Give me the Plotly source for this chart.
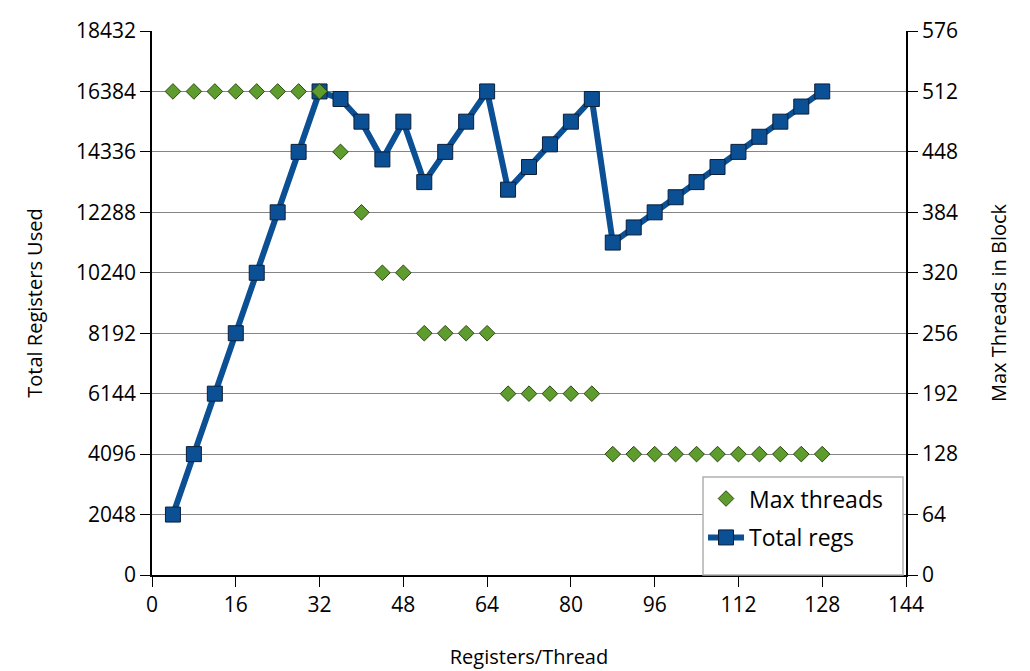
import plotly.graph_objects as go

# registers per thread (x axis)
regs_per_thread = [4, 8, 12, 16, 20, 24, 28, 32, 36, 40, 44, 48, 52, 56, 60, 64,
                   68, 72, 76, 80, 84, 88, 92, 96, 100, 104, 108, 112, 116, 120, 124, 128]

# max threads per block (right axis)
max_threads = [512, 512, 512, 512, 512, 512, 512, 512, 448, 384, 320, 320, 256, 256, 256, 256,
               192, 192, 192, 192, 192, 128, 128, 128, 128, 128, 128, 128, 128, 128, 128, 128]

# total registers used (left axis)
total_regs = [2048, 4096, 6144, 8192, 10240, 12288, 14336, 16384, 16128, 15360, 14080, 15360,
              13312, 14336, 15360, 16384, 13056, 13824, 14592, 15360, 16128, 11264, 11776,
              12288, 12800, 13312, 13824, 14336, 14848, 15360, 15872, 16384]

left_ticks = [0, 2048, 4096, 6144, 8192, 10240, 12288, 14336, 16384, 18432]
right_ticks = [0, 64, 128, 192, 256, 320, 384, 448, 512, 576]
x_ticks = [0, 16, 32, 48, 64, 80, 96, 112, 128, 144]

font_name = "Open Sans, Liberation Sans, sans-serif"

fig = go.Figure()

fig.add_trace(go.Scatter(
    x=regs_per_thread, y=max_threads, name="Max threads", yaxis="y2",
    mode="markers", legendgroup="a",
    marker=dict(symbol="diamond", size=12, color="#5E9C2E",
                line=dict(color="#2B4A12", width=1)),
))

fig.add_trace(go.Scatter(
    x=regs_per_thread, y=total_regs, name="Total regs",
    mode="lines+markers", legendgroup="b",
    line=dict(color="#0B4F94", width=6),
    marker=dict(symbol="square", size=15, color="#0B4F94",
                line=dict(color="#0A1F3A", width=1)),
))

axis_common = dict(
    showline=True, linecolor="black", linewidth=1.5,
    ticks="outside", ticklen=10, tickcolor="black",
    tickfont=dict(size=21, color="black"),
    zeroline=False, automargin=False,
)

# legend frame (paper coords), the legend itself sits inside it
legend_box = dict(x0=0.7308, x1=0.996, y0=0.0, y1=0.180)

fig.add_shape(
    type="rect", xref="paper", yref="paper", layer="above",
    fillcolor="white", line=dict(color="#B0B0B0", width=1.5),
    **legend_box,
)

# page body has an 8px margin, so the figure is shrunk by that much
fig.update_layout(
    width=1022, height=663,
    margin=dict(l=144, r=124, t=23, b=96),
    paper_bgcolor="white", plot_bgcolor="white",
    font=dict(family=font_name, color="black"),
    showlegend=True,
    xaxis=dict(
        range=[0, 144], tickvals=x_ticks, ticktext=[str(v) for v in x_ticks],
        showgrid=False,
        title=dict(text="Registers/Thread", font=dict(size=20), standoff=33),
        **axis_common,
    ),
    yaxis=dict(
        range=[0, 18432], tickvals=left_ticks, ticktext=[str(v) for v in left_ticks],
        showgrid=True, gridcolor="#858585", gridwidth=1,
        title=dict(text="Total Registers Used", font=dict(size=20), standoff=28),
        **axis_common,
    ),
    yaxis2=dict(
        range=[0, 576], tickvals=right_ticks, ticktext=[str(v) for v in right_ticks],
        overlaying="y", side="right", showgrid=False,
        title=dict(text="Max Threads in Block", font=dict(size=20), standoff=35),
        **axis_common,
    ),
    legend=dict(
        x=legend_box["x0"], y=legend_box["y1"], xanchor="left", yanchor="top",
        traceorder="grouped", tracegroupgap=6,
        bgcolor="rgba(0,0,0,0)", borderwidth=0,
        font=dict(size=23, color="black"),
        itemwidth=36,
    ),
)

fig.write_html("out.html")
